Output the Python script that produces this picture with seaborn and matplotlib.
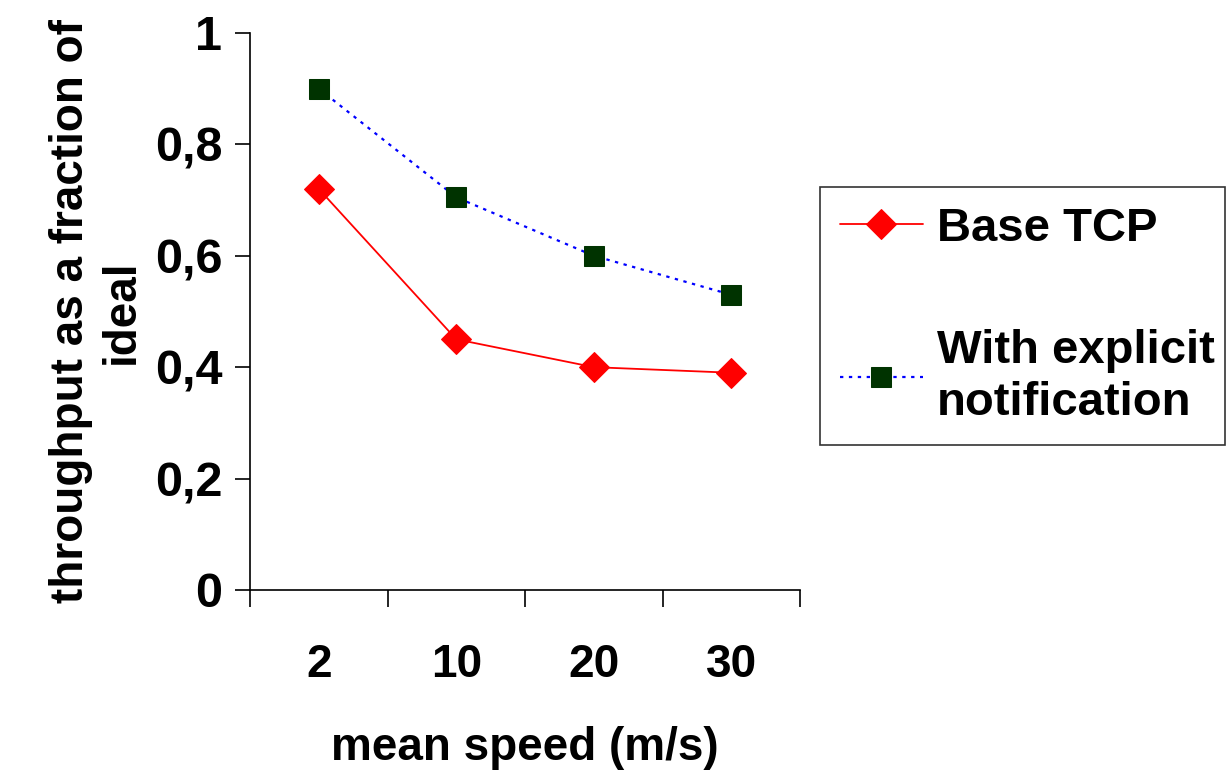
import numpy as np
import pandas as pd
import seaborn as sns
import matplotlib.pyplot as plt

speeds = ['2', '10', '20', '30']
base_tcp = [0.72, 0.45, 0.40, 0.39]
explicit = [0.90, 0.705, 0.60, 0.53]

df = pd.DataFrame({
    'pos': np.arange(len(speeds)),
    'base': base_tcp,
    'explicit': explicit,
})

sns.set_style('white')
plt.rcParams['font.family'] = ['Liberation Sans', 'DejaVu Sans']
plt.rcParams['font.weight'] = 'bold'
plt.rcParams['text.color'] = 'black'
plt.rcParams['axes.labelcolor'] = 'black'
plt.rcParams['xtick.color'] = 'black'
plt.rcParams['ytick.color'] = 'black'

fig = plt.figure(figsize=(12.28, 7.72), dpi=100)
ax = fig.add_axes([0.2036, 0.2358, 0.4479, 0.7215])

sns.lineplot(data=df, x='pos', y='base', ax=ax, color='#ff0000', lw=1.3,
             marker='D', markersize=15, markeredgecolor='#ff0000',
             label='Base TCP')
sns.lineplot(data=df, x='pos', y='explicit', ax=ax, color='#0000ff', lw=1.6,
             linestyle=(0, (1.5, 2.5)), marker='s', markersize=15,
             markerfacecolor='#003300', markeredgecolor='#003300',
             label='With explicit\nnotification')

ax.set_xlim(-0.5, 3.5)
ax.set_ylim(0, 1)
ax.set_xticks(np.arange(-0.5, 4, 1))
ax.set_xticklabels([])
ax.set_xticks(np.arange(len(speeds)), minor=True)
ax.set_xticklabels(speeds, minor=True)
ax.tick_params(axis='x', which='major', direction='out', length=12, width=1.2, bottom=True)
ax.tick_params(axis='x', which='minor', length=0, pad=38, labelsize=33)
ax.set_yticks([0, 0.2, 0.4, 0.6, 0.8, 1.0])
ax.set_yticklabels(['0', '0,2', '0,4', '0,6', '0,8', '1'])
ax.tick_params(axis='y', direction='out', length=11, width=1.2, left=True, labelsize=35, pad=9)

for side in ['top', 'right']:
    ax.spines[side].set_visible(False)
for side in ['left', 'bottom']:
    ax.spines[side].set_color('black')
    ax.spines[side].set_linewidth(1.2)

ax.set_xlabel('mean speed (m/s)', fontsize=33, fontweight='bold', labelpad=28)
ax.set_ylabel('throughput as a fraction of\nideal', fontsize=33, fontweight='bold', labelpad=8)

leg = ax.legend(loc='upper left', bbox_to_anchor=(0.6678, 0.439, 0.33, 0.3188),
                bbox_transform=fig.transFigure, mode='expand', borderaxespad=0,
                fontsize=34, frameon=True, fancybox=False, edgecolor='black',
                borderpad=0.42, labelspacing=1.65, handlelength=1.75, handletextpad=0.3)
leg.get_frame().set_linewidth(1.2)
for t in leg.get_texts():
    t.set_fontweight('bold')
    t.set_linespacing(1.25)

fig.savefig('out.png', dpi=100)
